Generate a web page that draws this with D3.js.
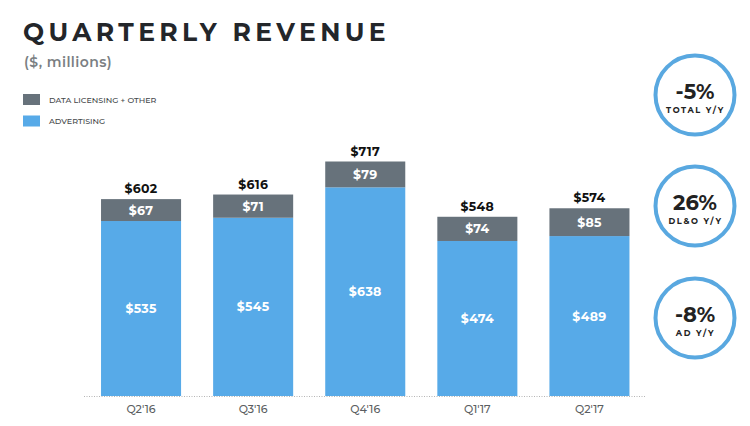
<!DOCTYPE html>
<html><head><meta charset="utf-8">
<script src="https://cdn.jsdelivr.net/npm/d3@7"></script>
<style>
html,body{margin:0;padding:0;background:#fff;}
svg{display:block;}
text{font-family:"Montserrat","Lato","Open Sans",sans-serif;}
</style></head>
<body>
<svg id="c" width="750" height="426"></svg>
<script>
const quarters = ["Q2'16","Q3'16","Q4'16","Q1'17","Q2'17"];
const advertising = [535,545,638,474,489];
const dataLicensing = [67,71,79,74,85];
const totals = [602,616,717,548,574];
const seriesNames = ["DATA LICENSING + OTHER","ADVERTISING"];
const kpiValues = ["-5%","26%","-8%"];
const kpiLabels = ["TOTAL Y/Y","DL&O Y/Y","AD Y/Y"];

const blue = "#57aae8", gray = "#67727b";
const svg = d3.select("#c");

// Title
svg.append("text").attr("x",23).attr("y",41)
  .attr("font-size",25).attr("font-weight",700).attr("fill","#23262a")
  .attr("letter-spacing",4.4).text("QUARTERLY REVENUE");
svg.append("text").attr("x",24).attr("y",67)
  .attr("font-size",14).attr("font-weight",600).attr("fill","#7b7f83")
  .attr("letter-spacing",0.4).text("($, millions)");

// Legend
const legColors = [gray, blue];
seriesNames.forEach((n,i)=>{
  const y = 94 + i*21.5;
  svg.append("rect").attr("x",23).attr("y",y).attr("width",17).attr("height",11).attr("fill",legColors[i]);
  svg.append("text").attr("x",49).attr("y",y+8.5).attr("font-size",8).attr("font-weight",500).attr("fill","#45484b")
    .text(n);
});

// Scales
const x = d3.scaleBand().domain(quarters).range([85,645.5]).paddingInner(0.286).paddingOuter(0.143);
const y = d3.scaleLinear().domain([0,717]).range([396,161.5]);

const data = quarters.map((q,i)=>({q, ad:advertising[i], dl:dataLicensing[i], total:totals[i]}));

const g = svg.append("g");
g.selectAll(".ad").data(data).join("rect")
  .attr("x",d=>x(d.q)).attr("width",x.bandwidth())
  .attr("y",d=>y(d.ad)).attr("height",d=>y(0)-y(d.ad)).attr("fill",blue);
g.selectAll(".dl").data(data).join("rect")
  .attr("x",d=>x(d.q)).attr("width",x.bandwidth())
  .attr("y",d=>y(d.ad+d.dl)).attr("height",d=>y(d.ad)-y(d.ad+d.dl)).attr("fill",gray);

g.selectAll(".adl").data(data).join("text")
  .attr("x",d=>x(d.q)+x.bandwidth()/2).attr("y",d=>(y(0)+y(d.ad))/2+4.5)
  .attr("text-anchor","middle").attr("font-size",12.5).attr("font-weight",700).attr("fill","#fff")
  .attr("letter-spacing",0.3).text(d=>"$"+d.ad);
g.selectAll(".dll").data(data).join("text")
  .attr("x",d=>x(d.q)+x.bandwidth()/2).attr("y",d=>(y(d.ad)+y(d.ad+d.dl))/2+4.5)
  .attr("text-anchor","middle").attr("font-size",12.5).attr("font-weight",700).attr("fill","#fff")
  .attr("letter-spacing",0.3).text(d=>"$"+d.dl);
g.selectAll(".tl").data(data).join("text")
  .attr("x",d=>x(d.q)+x.bandwidth()/2).attr("y",d=>y(d.total)-6)
  .attr("text-anchor","middle").attr("font-size",12.5).attr("font-weight",700).attr("fill","#111")
  .attr("letter-spacing",0.3).text(d=>"$"+d.total);

// Axis
const ax = svg.append("g").attr("transform","translate(0,396.5)")
  .call(d3.axisBottom(x).tickSize(0).tickPadding(9));
ax.select(".domain").attr("d","M84,0H645").attr("stroke","#b5b5b5").attr("stroke-dasharray","1,1.5").attr("stroke-width",1);
ax.selectAll("text").attr("font-size",11).attr("font-weight",500).attr("fill","#5b5e61")
  .attr("font-family","Montserrat, Lato, sans-serif");

// KPI circles
const cy = [95,206,318];
kpiValues.forEach((v,i)=>{
  svg.append("circle").attr("cx",695).attr("cy",cy[i]).attr("r",39.5)
    .attr("fill","#fff").attr("stroke","#59a8e0").attr("stroke-width",4);
  svg.append("text").attr("x",695).attr("y",cy[i]+4).attr("text-anchor","middle")
    .attr("font-size",21).attr("font-weight",700).attr("fill","#222").text(v);
  svg.append("text").attr("x",695.5).attr("y",cy[i]+18).attr("text-anchor","middle")
    .attr("font-size",8.2).attr("font-weight",700).attr("fill","#222")
    .attr("letter-spacing",1.6).text(kpiLabels[i]);
});
</script>
</body></html>
